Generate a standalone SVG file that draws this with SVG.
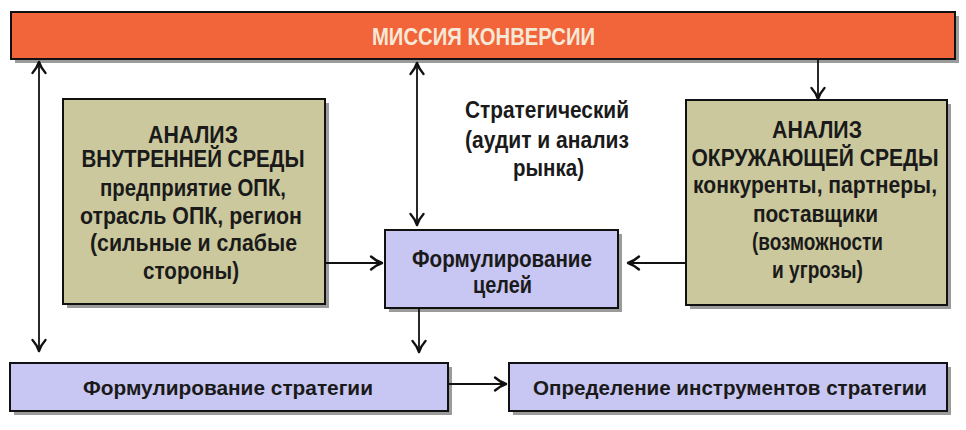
<svg xmlns="http://www.w3.org/2000/svg" width="966" height="430" viewBox="0 0 966 430">
<defs>
<marker id="ah" markerUnits="userSpaceOnUse" markerWidth="16" markerHeight="18" viewBox="-2 -2 16 18" refX="12" refY="7" orient="auto-start-reverse">
<path d="M1,0.5 Q6,5 12,7 Q6,9 1,13.5" fill="none" stroke="#111" stroke-width="2.4" stroke-linecap="round" stroke-linejoin="round"/>
</marker>
</defs>
<style>
.shadow{fill:#7a7a7a;opacity:0.75}
.box{stroke:#111;stroke-width:2}
.olive{fill:#CBC89D}
.lav{fill:#C8C6F2}
.bar{fill:#F2643A}
.t{font-family:"Liberation Sans",Arial,sans-serif;font-weight:bold;font-size:23px;fill:#1a1a1a;text-anchor:middle}
.s{font-size:21px}
.w{fill:#F6E8D6}
.c{fill:none;stroke:#111;stroke-width:1.8}
</style>
<rect width="966" height="430" fill="#ffffff"/>

<g id="mission">
<rect class="shadow" x="15" y="16" width="944" height="47"/>
<rect class="box bar" x="11" y="12" width="944" height="47"/>
<text class="t w" x="483.5" y="45" textLength="223" lengthAdjust="spacingAndGlyphs">МИССИЯ КОНВЕРСИИ</text>
</g>

<g id="internal">
<rect class="shadow" x="67" y="103" width="262" height="205"/>
<rect class="box olive" x="63" y="99" width="262" height="205"/>
<text class="t" x="193" y="143" textLength="90" lengthAdjust="spacingAndGlyphs">АНАЛИЗ</text>
<text class="t" x="193" y="167" textLength="223" lengthAdjust="spacingAndGlyphs">ВНУТРЕННЕЙ СРЕДЫ</text>
<text class="t" x="193" y="196" textLength="186" lengthAdjust="spacingAndGlyphs">предприятие ОПК,</text>
<text class="t" x="191" y="224" textLength="222" lengthAdjust="spacingAndGlyphs">отрасль ОПК, регион</text>
<text class="t" x="193.5" y="251" textLength="207" lengthAdjust="spacingAndGlyphs">(сильные и слабые</text>
<text class="t" x="191" y="279" textLength="96" lengthAdjust="spacingAndGlyphs">стороны)</text>
</g>

<g id="external">
<rect class="shadow" x="690" y="104" width="261" height="205"/>
<rect class="box olive" x="686" y="100" width="261" height="205"/>
<text class="t" x="817" y="138" textLength="90" lengthAdjust="spacingAndGlyphs">АНАЛИЗ</text>
<text class="t" x="815" y="166" textLength="247" lengthAdjust="spacingAndGlyphs">ОКРУЖАЮЩЕЙ СРЕДЫ</text>
<text class="t" x="815" y="193" textLength="244" lengthAdjust="spacingAndGlyphs">конкуренты, партнеры,</text>
<text class="t" x="815.5" y="222" textLength="125" lengthAdjust="spacingAndGlyphs">поставщики</text>
<text class="t" x="817.5" y="250" textLength="131" lengthAdjust="spacingAndGlyphs">(возможности</text>
<text class="t" x="817.5" y="278" textLength="91" lengthAdjust="spacingAndGlyphs">и угрозы)</text>
</g>

<g id="strategic-label">
<text class="t" x="547" y="118" textLength="164" lengthAdjust="spacingAndGlyphs">Стратегический</text>
<text class="t" x="547" y="148" textLength="164" lengthAdjust="spacingAndGlyphs">(аудит и анализ</text>
<text class="t" x="548.5" y="176" textLength="71" lengthAdjust="spacingAndGlyphs">рынка)</text>
</g>

<g id="goals">
<rect class="shadow" x="389" y="234" width="233" height="78"/>
<rect class="box lav" x="385" y="230" width="233" height="78"/>
<text class="t" x="502" y="267" textLength="180" lengthAdjust="spacingAndGlyphs">Формулирование</text>
<text class="t" x="502.5" y="293" textLength="59" lengthAdjust="spacingAndGlyphs">целей</text>
</g>

<g id="strategy">
<rect class="shadow" x="14" y="367" width="438" height="48"/>
<rect class="box lav" x="10" y="363" width="438" height="48"/>
<text class="t s" x="228" y="395" textLength="290" lengthAdjust="spacingAndGlyphs">Формулирование стратегии</text>
</g>

<g id="tools">
<rect class="shadow" x="513" y="367" width="438" height="48"/>
<rect class="box lav" x="509" y="363" width="438" height="48"/>
<text class="t s" x="730" y="395" textLength="394" lengthAdjust="spacingAndGlyphs">Определение инструментов стратегии</text>
</g>

<g id="connectors">
<line class="c" x1="39" y1="62" x2="39" y2="351" marker-start="url(#ah)" marker-end="url(#ah)"/>
<line class="c" x1="417" y1="63" x2="417" y2="225" marker-start="url(#ah)" marker-end="url(#ah)"/>
<line class="c" x1="818" y1="59" x2="818" y2="99" marker-end="url(#ah)"/>
<line class="c" x1="325" y1="263" x2="382" y2="263" marker-end="url(#ah)"/>
<line class="c" x1="686" y1="263" x2="628" y2="263" marker-end="url(#ah)"/>
<line class="c" x1="419" y1="308" x2="419" y2="352" marker-end="url(#ah)"/>
<line class="c" x1="448" y1="384" x2="506" y2="384" marker-end="url(#ah)"/>
</g>
</svg>
